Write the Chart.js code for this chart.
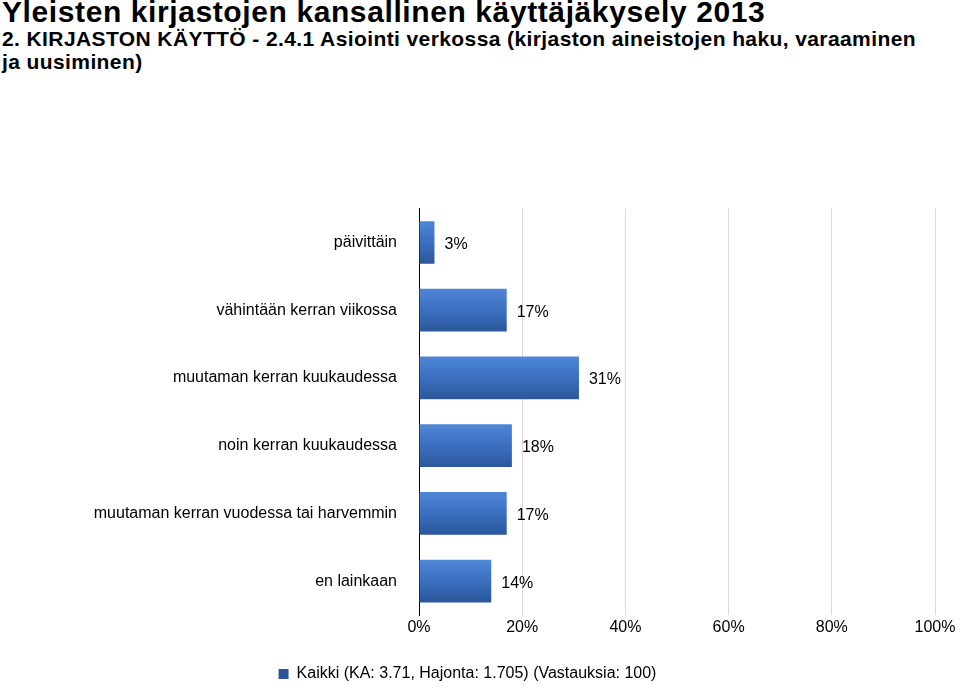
<!DOCTYPE html>
<html>
<head>
<meta charset="utf-8">
<script src="https://cdn.jsdelivr.net/npm/chart.js@4/dist/chart.umd.min.js"></script>
<style>
  body { margin: 0; background: #fff; font-family: "Liberation Sans", Arial, sans-serif; }
  #title { position: absolute; left: 2px; top: -3px; color: #000; }
  #title h1 { margin: 0; font-size: 30px; font-weight: bold; line-height: 30px; letter-spacing: 0.6px; }
  #title h2 { margin: 0; font-size: 21px; font-weight: bold; line-height: 23px; letter-spacing: 0.4px; }
  #wrap { position: absolute; left: 0; top: 185px; width: 960px; height: 507px; }
</style>
</head>
<body>
<div id="title">
  <h1>Yleisten kirjastojen kansallinen käyttäjäkysely 2013</h1>
  <h2>2. KIRJASTON KÄYTTÖ - 2.4.1 Asiointi verkossa (kirjaston aineistojen haku, varaaminen<br>ja uusiminen)</h2>
</div>
<div id="wrap"><canvas id="chart"></canvas></div>
<script>
// Chart data
const categories = ['päivittäin', 'vähintään kerran viikossa', 'muutaman kerran kuukaudessa',
  'noin kerran kuukaudessa', 'muutaman kerran vuodessa tai harvemmin', 'en lainkaan'];
const values = [3, 17, 31, 18, 17, 14];
const seriesLabel = 'Kaikki (KA: 3.71, Hajonta: 1.705) (Vastauksia: 100)';

const font = { family: '"Liberation Sans", Arial, sans-serif', size: 16 };

// Draw value labels at bar ends
const valueLabels = {
  id: 'valueLabels',
  afterDatasetsDraw(chart) {
    const ctx = chart.ctx;
    ctx.save();
    ctx.font = '16px "Liberation Sans", Arial, sans-serif';
    ctx.fillStyle = '#000';
    ctx.textBaseline = 'middle';
    chart.getDatasetMeta(0).data.forEach((bar, i) => {
      ctx.fillText(values[i] + '%', bar.x + 10, bar.y + 2);
    });
    ctx.restore();
  }
};

const spacing = {
  id: 'spacing',
  beforeInit(chart) { chart.ctx.letterSpacing = '1.5px'; }
};

// vertical gradient per bar, centred on the category
function barFill(c) {
  const yScale = c.chart.scales && c.chart.scales.y;
  if (!yScale || c.dataIndex === undefined) return '#3b6fc0';
  const y = yScale.getPixelForValue(c.dataIndex);
  if (!isFinite(y)) return '#3b6fc0';
  const g = c.chart.ctx.createLinearGradient(0, y - 23, 0, y + 23);
  g.addColorStop(0, '#5088d8');
  g.addColorStop(0.5, '#3b6fc0');
  g.addColorStop(1, '#2a5597');
  return g;
}

const ctx = document.getElementById('chart').getContext('2d');
new Chart(ctx, {
  type: 'bar',
  data: {
    labels: categories,
    datasets: [{
      label: seriesLabel,
      data: values,
      backgroundColor: barFill,
      borderWidth: 0,
      categoryPercentage: 0.63,
      barPercentage: 1
    }]
  },
  options: {
    indexAxis: 'y',
    responsive: true,
    maintainAspectRatio: false,
    animation: false,
    layout: { padding: { left: 0, right: 25, top: 0, bottom: 0 } },
    plugins: {
      legend: {
        position: 'bottom',
        labels: { color: '#000', font: font, boxWidth: 10, boxHeight: 10, padding: 6 }
      },
      tooltip: { enabled: false }
    },
    scales: {
      x: {
        min: 0, max: 100,
        ticks: { stepSize: 20, color: '#000', font: font, callback: v => v + '%' },
        grid: { color: '#d9d9d9', drawTicks: false },
        border: { display: false },
        afterFit(s) { s.height = 45; }
      },
      y: {
        ticks: { color: '#000', font: font, padding: 14 },
        grid: { display: false },
        border: { color: '#000', width: 1 },
        afterFit(s) { s.width = 419; }
      }
    }
  },
  plugins: [spacing, valueLabels]
});
</script>
</body>
</html>
